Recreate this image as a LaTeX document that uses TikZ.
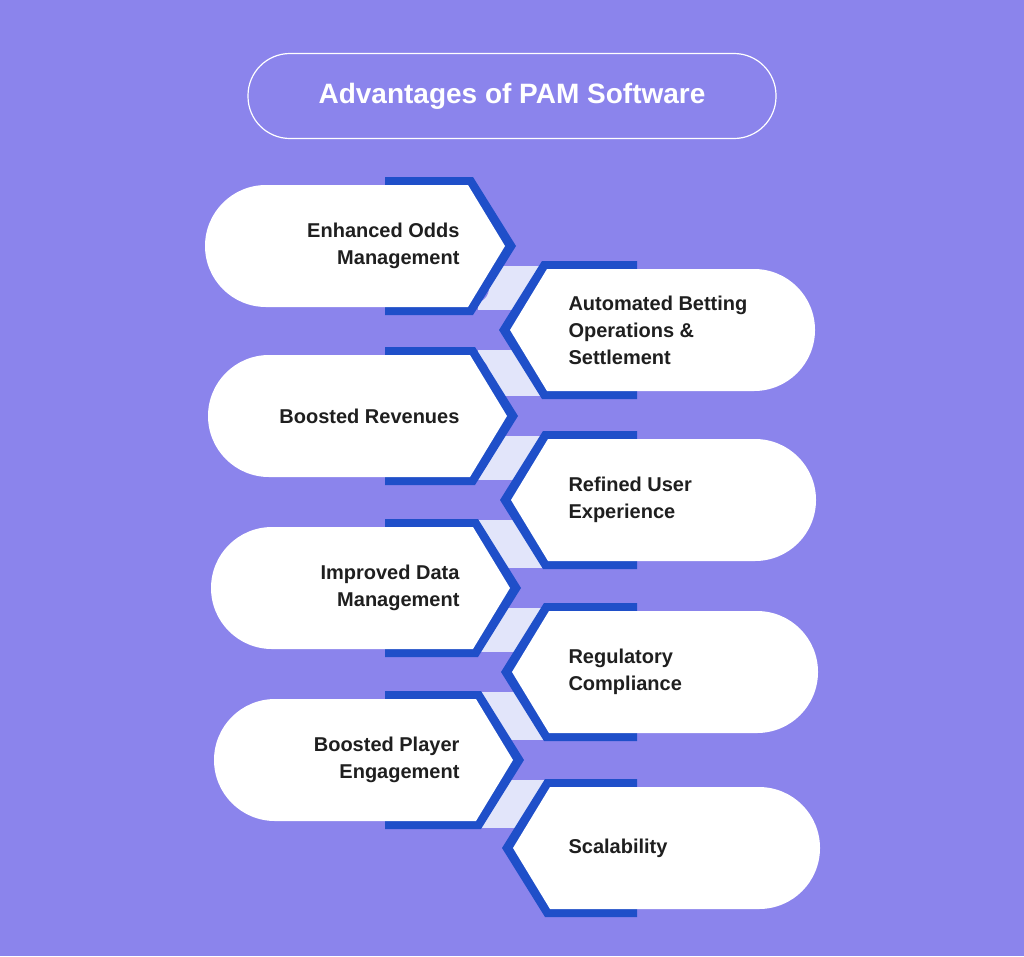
\documentclass[tikz,border=0pt]{standalone}
\usepackage{fontspec}
\setmainfont{Liberation Sans}
\definecolor{bg}{HTML}{8B84EC}
\definecolor{bl}{HTML}{1F4FC9}
\definecolor{lt}{HTML}{E2E5FA}
\begin{document}
\begin{tikzpicture}[x=1pt,y=-1pt,
  txt/.style={font=\bfseries\fontsize{20}{27}\selectfont,text=black!88,align=left,anchor=west},
  txtr/.style={font=\bfseries\fontsize{20}{27}\selectfont,text=black!88,align=right,anchor=east}]
\fill[bg] (0,0) rectangle (1024,956);
\useasboundingbox (0,0) rectangle (1024,956);
\node[draw=white,line width=1.2pt,rounded corners=42pt,minimum width=528pt,minimum height=85pt,
  font=\bfseries\fontsize{28}{30}\selectfont,text=white] (title) at (512,96) {Advantages of PAM Software};
\def\h{61}
% connectors
\foreach \a/\b in {246/330,330/416,416/500,500/588,588/672,672/760,760/848}{
  \fill[lt] (478,\a+20) rectangle (546,\b-20);
  \fill[bg] (474,{(\a+\b)/2}) circle (15);
  \fill[bg] (550,{(\a+\b)/2}) circle (15);
}
% left cards
\foreach \c/\L/\T/\t [count=\i] in {246/205/505/{Enhanced Odds\\Management},416/208/507/{Boosted Revenues},588/211/510/{Improved Data\\Management},760/214/513/{Boosted Player\\Engagement}}{
  \fill[bl] (385,\c-\h-8) -- (\T-32,\c-\h-8) -- (\T+11,\c) -- (\T-32,\c+\h+8) -- (385,\c+\h+8) -- cycle;
  \fill[white] (\L+\h,\c-\h) -- (\T-37,\c-\h) -- (\T,\c) -- (\T-37,\c+\h) -- (\L+\h,\c+\h) arc[start angle=90,end angle=270,radius=\h] -- cycle;
  \node[txtr] (l\i) at (463,\c) {\t};
}
% right cards
\foreach \c/\R/\T/\t [count=\i] in {330/815/510/{Automated Betting\\Operations \&\\Settlement},500/816/511/{Refined User\\Experience},672/818/512/{Regulatory\\Compliance},848/820/513/{Scalability}}{
  \fill[bl] (637,\c-\h-8) -- (\T+32,\c-\h-8) -- (\T-11,\c) -- (\T+32,\c+\h+8) -- (637,\c+\h+8) -- cycle;
  \fill[white] (\R-\h,\c-\h) -- (\T+37,\c-\h) -- (\T,\c) -- (\T+37,\c+\h) -- (\R-\h,\c+\h) arc[start angle=90,end angle=-90,radius=\h] -- cycle;
  \node[txt] (r\i) at (565,\c) {\t};
}
\end{tikzpicture}
\end{document}
